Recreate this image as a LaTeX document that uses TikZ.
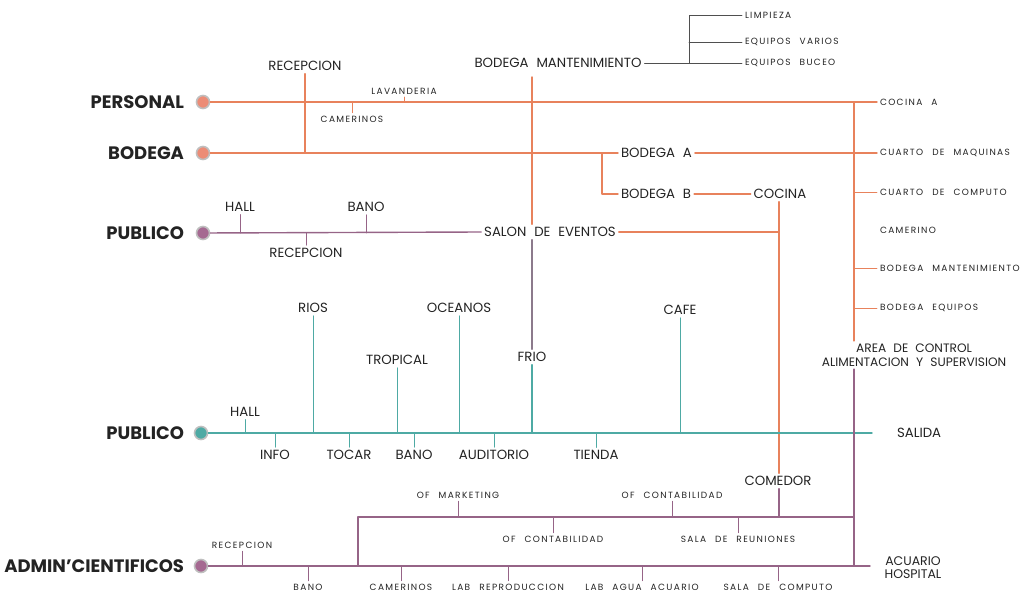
\documentclass[tikz,border=0pt]{standalone}
\usepackage{fontspec}
\setmainfont{Poppins}
\newfontfamily\rotulo[WordSpace=2.2]{Poppins}
\newfontfamily\rotchico[WordSpace=2.4, LetterSpace=15]{Poppins}
\definecolor{naranja}{RGB}{232,130,92}
\definecolor{narfill}{RGB}{236,140,118}
\definecolor{morado}{RGB}{150,100,135}
\definecolor{morfill}{RGB}{165,105,145}
\definecolor{turquesa}{RGB}{78,170,164}
\definecolor{grismor}{RGB}{140,122,140}
\definecolor{texto}{RGB}{35,35,35}
\begin{document}
\begin{tikzpicture}[x=1pt, y=-1pt, line cap=round, line join=round,
  big/.style={font=\fontsize{18}{18}\selectfont\bfseries, text=texto, inner sep=0pt, outer sep=3pt},
  mid/.style={font=\rotulo\fontsize{13.3}{15}\selectfont, text=texto, inner sep=0pt, outer sep=3pt},
  sml/.style={font=\rotchico\fontsize{9}{10}\selectfont, text=texto, inner sep=0pt, outer sep=3pt},
  parada/.style={circle, draw=gray!50, line width=1.6pt, minimum size=13pt, inner sep=0pt},
  lnar/.style={draw=naranja, line width=1.4pt},
  lmor/.style={draw=morado, line width=1.4pt},
  lturq/.style={draw=turquesa, line width=1.4pt},
  lgris/.style={draw=grismor, line width=1.4pt},
  rama/.style={line width=.8pt},
  lneg/.style={draw=texto!80, line width=.8pt}]
\useasboundingbox (0,0) rectangle (1028,599);
% entradas
\node[big, anchor=east] (personal) at (187,102) {PERSONAL};
\node[parada, fill=narfill] (pp) at (203,102) {};
\node[big, anchor=east] (bodega) at (187,153) {BODEGA};
\node[parada, fill=narfill] (pb) at (203,153) {};
\node[big, anchor=east] (publico) at (187,233) {PUBLICO};
\node[parada, fill=morfill] (pu) at (203,233) {};
\node[big, anchor=east] (visita) at (187,433) {PUBLICO};
\node[parada, fill=turquesa] (pv) at (201,433) {};
\node[big, anchor=east] (admin) at (187,566) {ADMIN'CIENTIFICOS};
\node[parada, fill=morfill] (pa) at (201,566) {};
% columna derecha
\def\xr{877}
\node[sml, anchor=west] (cocA) at (\xr,102) {COCINA A};
\node[sml, anchor=west] (cmaq) at (\xr,153) {CUARTO DE MAQUINAS};
\node[sml, anchor=west] (ccomp) at (\xr,192) {CUARTO DE COMPUTO};
\node[sml, anchor=west] (camer) at (\xr,230) {CAMERINO};
\node[sml, anchor=west] (bman) at (\xr,268) {BODEGA MANTENIMIENTO};
\node[sml, anchor=west] (bequ) at (\xr,308) {BODEGA EQUIPOS};
\node[mid, align=center, font=\rotulo\fontsize{12.2}{13.5}\selectfont] (area) at (914,355) {AREA DE CONTROL\\ALIMENTACION Y SUPERVISION};
\coordinate (xc) at (854,0);
% personal y bodega
\node[mid] (recT) at (305,66) {RECEPCION};
\node[sml] (lav) at (404,91) {LAVANDERIA};
\node[sml] (cam) at (352,119) {CAMERINOS};
\node[mid] (bm) at (558,63) {BODEGA MANTENIMIENTO};
\node[sml, anchor=west] (limp) at (742,15) {LIMPIEZA};
\node[sml, anchor=west] (evar) at (742,42) {EQUIPOS VARIOS};
\node[sml, anchor=west] (ebu) at (742,63) {EQUIPOS BUCEO};
\node[mid, anchor=west] (bA) at (618,153) {BODEGA A};
\node[mid, anchor=west] (bB) at (618,194) {BODEGA B};
\node[mid] (coc) at (780,194) {COCINA};
\coordinate (brk) at (689,63);
\coordinate (bb) at (602,153);
\coordinate (mv0) at (532,77);
\coordinate (xk) at (779,0);
% publico (salon)
\node[mid] (hall1) at (240,207) {HALL};
\node[mid] (banoA) at (366,207) {BANO};
\node[mid] (recB) at (306,253) {RECEPCION};
\node[mid] (salon) at (550,232) {SALON DE EVENTOS};
% publico (recorrido)
\node[mid] (hall2) at (245,412) {HALL};
\node[mid] (rios) at (313,308) {RIOS};
\node[mid] (trop) at (397,360) {TROPICAL};
\node[mid] (oce) at (459,308) {OCEANOS};
\node[mid] (frio) at (532,357) {FRIO};
\node[mid] (cafe) at (680,310) {CAFE};
\node[mid] (info) at (275,455) {INFO};
\node[mid] (tocar) at (349,455) {TOCAR};
\node[mid] (banoB) at (414,455) {BANO};
\node[mid] (aud) at (494,455) {AUDITORIO};
\node[mid] (tienda) at (596,455) {TIENDA};
\node[mid, anchor=west] (salida) at (894,433) {SALIDA};
\coordinate (fin) at (872,433);
% admin
\node[mid] (com) at (778,481) {COMEDOR};
\node[sml] (recA) at (242,545) {RECEPCION};
\node[sml] (banoC) at (308,587) {BANO};
\node[sml] (camC) at (401,587) {CAMERINOS};
\node[sml] (labr) at (508,587) {LAB REPRODUCCION};
\node[sml] (laba) at (642,587) {LAB AGUA ACUARIO};
\node[sml] (sala) at (778,587) {SALA DE COMPUTO};
\node[sml] (ofm) at (458,495) {OF MARKETING};
\node[sml] (ofc1) at (553,539) {OF CONTABILIDAD};
\node[sml] (ofc2) at (672,495) {OF CONTABILIDAD};
\node[sml] (salr) at (738,539) {SALA DE REUNIONES};
\node[mid, align=center, font=\rotulo\fontsize{12.5}{13}\selectfont] (acu) at (913,568) {ACUARIO\\HOSPITAL};
\coordinate (r0) at (358,517);
\coordinate (fin2) at (870,566);
% lineas naranjas
\draw[lnar] (pp) -- (cocA.west);
\draw[lnar] (xc |- pp) -- (xc |- area.north);
\foreach \n in {ccomp,bman,bequ}
  \draw[lnar, rama] (xc |- \n) -- (\n.west);
\draw[lnar] (recT.south) -- (recT.south |- pb);
\draw[lnar, rama] (lav.south) -- (lav.south |- pp);
\draw[lnar, rama] (cam.north |- pp) -- (cam.north);
\draw[lnar] (pb) -- (bb) -- (bA.west);
\draw[lnar] (bb) |- (bB.west);
\draw[lnar] (bA.east) -- (cmaq.west);
\draw[lnar] (bB.east) -- (coc.west);
\draw[lnar] (mv0) -- (mv0 |- salon.north);
\draw[lnar] (salon.east) -- (xk |- salon);
\draw[lnar] (xk |- coc.south) -- (xk |- com.north);
% bodega mantenimiento
\draw[lneg] (bm.east) -- (ebu.west);
\draw[lneg] (limp.west) -| (brk);
\draw[lneg] (evar.west) -- (evar.west -| brk);
% linea publico morada
\draw[lmor] (pu) -- (salon.west);
\draw[lmor, rama] (hall1.south) -- (hall1.south |- pu);
\draw[lmor, rama] (banoA.south) -- (banoA.south |- pu);
\draw[lmor, rama] (recB.north |- pu) -- (recB.north);
\draw[lgris] (mv0 |- salon.south) -- (frio.north);
% linea publico turquesa
\draw[lturq] (pv) -- (fin);
\draw[lturq] (frio.south) -- (frio.south |- pv);
\foreach \n in {hall2,rios,trop,oce,cafe}
  \draw[lturq, rama] (\n.south) -- (\n.south |- pv);
\foreach \n in {info,tocar,banoB,aud,tienda}
  \draw[lturq, rama] (\n.north |- pv) -- (\n.north);
% linea admin
\draw[lmor] (pa) -- (fin2);
\draw[lmor] (xc |- area.south) -- (xc |- pa);
\draw[lmor] (r0 |- pa) -- (r0) -- (xc |- r0);
\draw[lmor] (xk |- com.south) -- (xk |- r0);
\draw[lmor, rama] (recA.south) -- (recA.south |- pa);
\foreach \n in {banoC,camC,labr,laba,sala}
  \draw[lmor, rama] (\n.north |- pa) -- (\n.north);
\foreach \n in {ofm,ofc2}
  \draw[lmor, rama] (\n.south) -- (\n.south |- r0);
\foreach \n in {ofc1,salr}
  \draw[lmor, rama] (\n.north |- r0) -- (\n.north);
\end{tikzpicture}
\end{document}
